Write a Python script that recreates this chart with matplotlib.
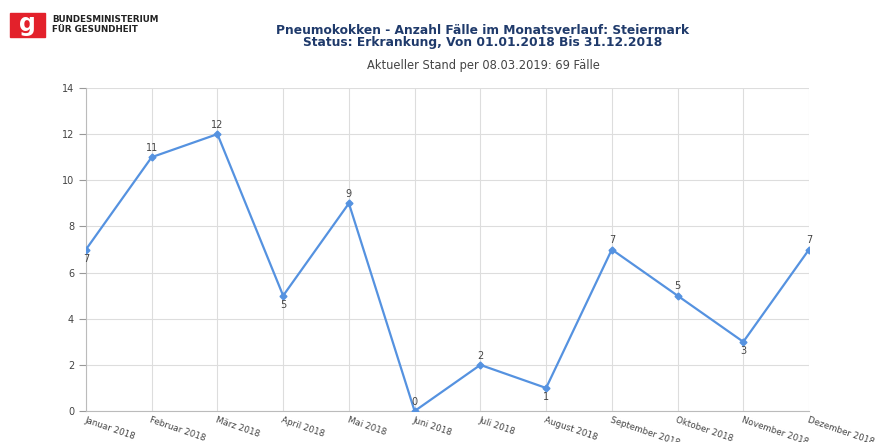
import matplotlib.pyplot as plt
from matplotlib.patches import Rectangle

months = ["Januar 2018", "Februar 2018", "März 2018", "April 2018", "Mai 2018",
          "Juni 2018", "Juli 2018", "August 2018", "September 2018",
          "Oktober 2018", "November 2018", "Dezember 2018"]
cases = [7, 11, 12, 5, 9, 0, 2, 1, 7, 5, 3, 7]
# where each value label sits relative to its point
label_side = ["below", "above", "above", "below", "above", "above",
              "above", "below", "above", "above", "below", "above"]
yticks = [0, 2, 4, 6, 8, 10, 12, 14]

line_color = "#5592e0"
text_gray = "#444444"
grid_gray = "#dddddd"

fig = plt.figure(figsize=(8.77, 4.42), dpi=100)
ax = fig.add_axes([0.098, 0.070, 0.8245, 0.731])

x = list(range(len(months)))
ax.plot(x, cases, color=line_color, lw=1.6, marker="D", ms=3.5,
        markerfacecolor=line_color, markeredgecolor=line_color, zorder=3)

for xi, v, side in zip(x, cases, label_side):
    if side == "above":
        ax.annotate(str(v), (xi, v), xytext=(0, 3), textcoords="offset points",
                    ha="center", va="bottom", fontsize=7, color=text_gray)
    else:
        ax.annotate(str(v), (xi, v), xytext=(0, -3), textcoords="offset points",
                    ha="center", va="top", fontsize=7, color=text_gray)

ax.set_xlim(0, len(months) - 1)
ax.set_ylim(0, 14)
ax.set_yticks(yticks)
ax.set_xticks(x)
ax.set_xticklabels(months, rotation=-19, ha="left", va="top",
                   rotation_mode="anchor", fontsize=6.3, color=text_gray)
ax.tick_params(axis="y", labelsize=7, labelcolor=text_gray, length=5,
               color="#999999", width=0.8)
ax.tick_params(axis="x", length=0, pad=3)
ax.grid(True, color=grid_gray, lw=0.8)
ax.set_axisbelow(True)
for s in ["top", "right"]:
    ax.spines[s].set_visible(False)
ax.spines["left"].set_color("#bbbbbb")
ax.spines["bottom"].set_color("#bbbbbb")

# logo block
fig.patches.append(Rectangle((10 / 877, 1 - 37 / 442), 35 / 877, 24 / 442,
                             transform=fig.transFigure, color="#e3212b"))
fig.text(27.5 / 877, 1 - 24 / 442, "g", ha="center", va="center",
         fontsize=17, fontweight="bold", color="white")
fig.text(52 / 877, 1 - 19 / 442, "BUNDESMINISTERIUM", ha="left", va="center",
         fontsize=6.3, fontweight="bold", color="#222222")
fig.text(52 / 877, 1 - 29 / 442, "FÜR GESUNDHEIT", ha="left", va="center",
         fontsize=6.3, fontweight="bold", color="#222222")

fig.text(483 / 877, 1 - 30 / 442,
         "Pneumokokken - Anzahl Fälle im Monatsverlauf: Steiermark",
         ha="center", va="center", fontsize=8.8, fontweight="bold", color="#1f3a6b")
fig.text(483 / 877, 1 - 42.5 / 442,
         "Status: Erkrankung, Von 01.01.2018 Bis 31.12.2018",
         ha="center", va="center", fontsize=8.8, fontweight="bold", color="#1f3a6b")
fig.text(483 / 877, 1 - 65 / 442, "Aktueller Stand per 08.03.2019: 69 Fälle",
         ha="center", va="center", fontsize=8.3, color=text_gray)

fig.savefig("out.png", dpi=100)
